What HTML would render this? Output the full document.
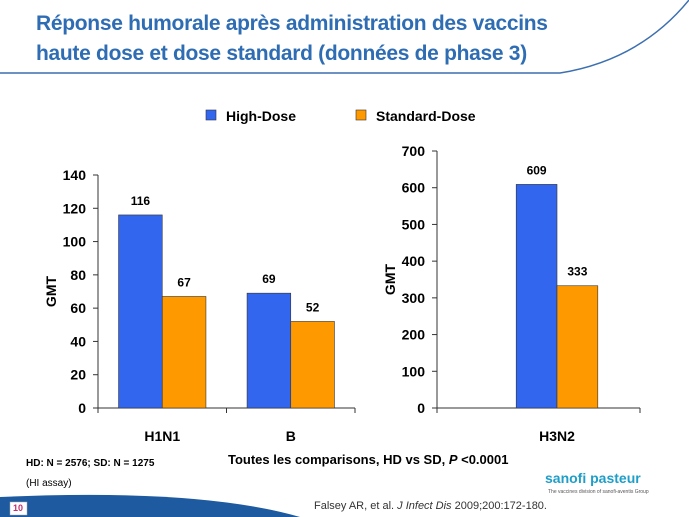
<!DOCTYPE html>
<html><head><meta charset="utf-8"><style>
body{margin:0;width:689px;height:517px;background:#fff;overflow:hidden;font-family:"Liberation Sans",sans-serif;position:relative}
.t{position:absolute;white-space:nowrap}
</style></head><body>
<svg width="689" height="517" style="position:absolute;left:0;top:0">
<path d="M0,73 L560,73 Q640,60 689,0" fill="none" stroke="#3c6fb0" stroke-width="1.5"/>
<path d="M0,497 Q200,488 300,517 L0,517 Z" fill="#1e5aa0"/>
<rect x="10" y="502" width="17" height="13" fill="#fff" stroke="#aaa" stroke-width="0.5"/>
</svg>
<div class="t" style="left:36px;top:9px;font-size:21px;font-weight:bold;color:#2e6db3;line-height:30px;letter-spacing:-0.3px">Réponse humorale après administration des vaccins<br>haute dose et dose standard (données de phase 3)</div>
<div class="t" style="left:13px;top:503px;font-size:9px;color:#c03070;font-weight:bold">10</div>
<svg id="c" width="689" height="517" style="position:absolute;left:0;top:0"></svg>
<div class="t" style="left:26px;top:458px;font-size:10px;font-weight:bold">HD: N = 2576; SD: N = 1275</div>
<div class="t" style="left:26px;top:478px;font-size:10px">(HI assay)</div>
<div class="t" style="left:228px;top:452px;font-size:13px;font-weight:bold">Toutes les comparisons, HD vs SD, <i>P</i> &lt;0.0001</div>
<div class="t" style="left:314px;top:500px;font-size:11px;color:#333">Falsey AR, et al. <i>J Infect Dis</i> 2009;200:172-180.</div>
<div class="t" style="left:545px;top:470px;font-size:14px;font-weight:bold;color:#1e9ec8">sanofi pasteur</div>
<div class="t" style="left:548px;top:489px;font-size:5px;color:#555">The vaccines division of sanofi-aventis Group</div>
<script>
const leftCats=["H1N1","B"];
const leftHD=[116,69];
const leftSD=[67,52];
const leftTicks=[0,20,40,60,80,100,120,140];
const rightCats=["H3N2"];
const rightHD=[609];
const rightSD=[333];
const rightTicks=[0,100,200,300,400,500,600,700];
const HD="#3366ee",SD="#ff9900";
const svg=document.getElementById('c');
const NS="http://www.w3.org/2000/svg";
function mk(t,a,txt){const e=document.createElementNS(NS,t);for(const k in a)e.setAttribute(k,a[k]);if(txt!==undefined)e.textContent=txt;svg.appendChild(e);return e;}
function chart(ax,x1,y0,yTop,max,cats,hd,sd,ticks,pref,bf,axEnd){
 const y=v=>y0-(y0-yTop)*v/max;
 const cw=(x1-ax)/cats.length;
 let e=mk('line',{x1:ax,y1:y0,x2:ax,y2:yTop,stroke:'#333'});
 
 e=mk('line',{x1:ax,y1:y0,x2:axEnd,y2:y0,stroke:'#333'});
 
 ticks.forEach(t=>{
  mk('line',{x1:ax-5,x2:ax,y1:y(t),y2:y(t),stroke:'#333'});
  e=mk('text',{x:ax-12,y:y(t)+5,'text-anchor':'end','font-size':14,'font-weight':'bold','font-family':'Liberation Sans'},t);
  
 });
 for(let i=0;i<=cats.length;i++){const tx=Math.min(ax+i*cw,axEnd);mk('line',{x1:tx,x2:tx,y1:y0,y2:y0+5,stroke:'#333'});}
 cats.forEach((c,i)=>{
  const cx=ax+cw*(i+0.5),bw=cw*bf;
  [[hd[i],cx-bw,HD,'hd'],[sd[i],cx,SD,'sd']].forEach(([v,x,col,k])=>{
   e=mk('rect',{x:x,y:y(v),width:bw,height:y0-y(v),fill:col,stroke:'#333','stroke-width':0.6});
   
   e=mk('text',{x:x+bw/2,y:y(v)-10,'text-anchor':'middle','font-size':12,'font-weight':'bold','font-family':'Liberation Sans'},v);
   
  });
  e=mk('text',{x:cx,y:y0+33,'text-anchor':'middle','font-size':14,'font-weight':'bold','font-family':'Liberation Sans'},c);
  
 });
 const my=(y0+yTop)/2;
 e=mk('text',{x:ax-42,y:my,'text-anchor':'middle','font-size':14,'font-weight':'bold','font-family':'Liberation Sans',transform:`rotate(-90 ${ax-42} ${my})`},'GMT');
 
}
chart(98,355,408,175,140,leftCats,leftHD,leftSD,leftTicks,'left',0.34,355);
chart(437,677,408,151,700,rightCats,rightHD,rightSD,rightTicks,'right',0.17,640);
let e=mk('rect',{x:206,y:110,width:10,height:10,fill:HD,stroke:'#333','stroke-width':0.6});

e=mk('text',{x:226,y:121,'font-size':14,'font-weight':'bold','font-family':'Liberation Sans'},'High-Dose');

e=mk('rect',{x:356,y:110,width:10,height:10,fill:SD,stroke:'#333','stroke-width':0.6});

e=mk('text',{x:376,y:121,'font-size':14,'font-weight':'bold','font-family':'Liberation Sans'},'Standard-Dose');

</script>
</body></html>
